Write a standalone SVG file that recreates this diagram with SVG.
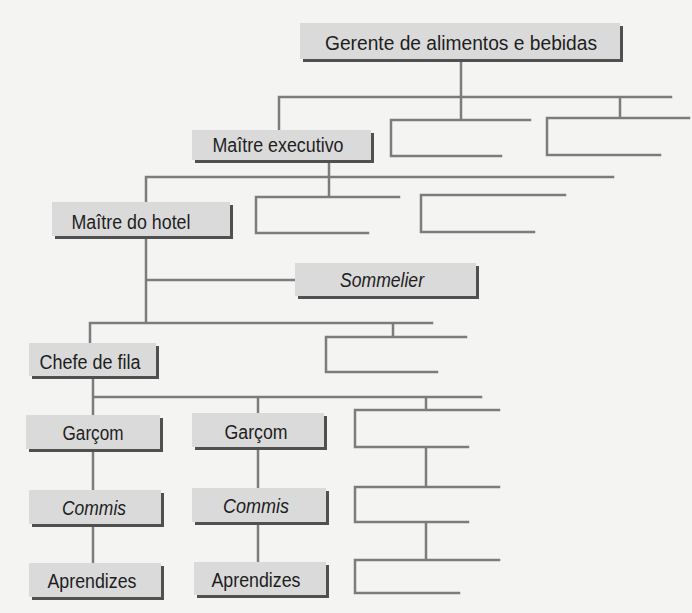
<svg xmlns="http://www.w3.org/2000/svg" width="692" height="613" viewBox="0 0 692 613">
<defs>
<style>
.bg{fill:#f4f4f2}
.sh{fill:#505050}
.bx{fill:#dadada}
.t{font-family:"Liberation Sans",Arial,sans-serif;font-size:20px;fill:#1e1e1e;text-anchor:middle}
.i{font-style:italic}
.c{fill:none;stroke:#7c7c7c;stroke-width:2.5;stroke-linecap:square}
</style>
</defs>
<rect class="bg" x="0" y="0" width="692" height="613"/>
<g id="connectors" class="c">
<path d="M461 63V97M279 97H671M279 97V130M461 97V120M391 120H530M391 120V156H501M620 97V118M547 118H689M547 118V155H660"/>
<path d="M329 163V177M146 177H613M146 177V202M329 177V197M256 197H399M256 197V233H368M421 195H565M421 195V232H534"/>
<path d="M146 239V323M146 280H295M90 323H432M90 323V343M393 323V337M326 337H466M326 337V372H437"/>
<path d="M93 379V415M93 397H481M258 397V413M426 397V410M355 410H499M355 410V447H468M426 447V487M355 487H499M355 487V522H468M426 522V560M355 560H499M355 560V593H459"/>
<path d="M93 452V490M93 527V563M258 450V488M258 525V562"/>
</g>
<g id="gerente"><rect class="sh" x="303" y="26" width="320" height="36"/><rect class="bx" x="300" y="23" width="320" height="36"/><text class="t" x="461" y="50" textLength="272" lengthAdjust="spacingAndGlyphs">Gerente de alimentos e bebidas</text></g>
<g id="maitre-executivo"><rect class="sh" x="195" y="133" width="179" height="30"/><rect class="bx" x="192" y="130" width="179" height="30"/><text class="t" x="278" y="152" textLength="131" lengthAdjust="spacingAndGlyphs">Maître executivo</text></g>
<g id="maitre-hotel"><rect class="sh" x="55" y="205" width="178" height="34"/><rect class="bx" x="52" y="202" width="178" height="34"/><text class="t" x="131" y="229" textLength="119" lengthAdjust="spacingAndGlyphs">Maître do hotel</text></g>
<g id="sommelier"><rect class="sh" x="298" y="266" width="181" height="33"/><rect class="bx" x="295" y="263" width="181" height="33"/><text class="t i" x="382" y="287" textLength="84" lengthAdjust="spacingAndGlyphs">Sommelier</text></g>
<g id="chefe"><rect class="sh" x="32" y="346" width="127" height="33"/><rect class="bx" x="29" y="343" width="127" height="33"/><text class="t" x="90" y="369" textLength="101" lengthAdjust="spacingAndGlyphs">Chefe de fila</text></g>
<g id="garcom1"><rect class="sh" x="29" y="418" width="134" height="34"/><rect class="bx" x="26" y="415" width="134" height="34"/><text class="t" x="93" y="440" textLength="61" lengthAdjust="spacingAndGlyphs">Garçom</text></g>
<g id="garcom2"><rect class="sh" x="195" y="416" width="132" height="34"/><rect class="bx" x="192" y="413" width="132" height="34"/><text class="t" x="256" y="439" textLength="63" lengthAdjust="spacingAndGlyphs">Garçom</text></g>
<g id="commis1"><rect class="sh" x="32" y="493" width="132" height="34"/><rect class="bx" x="29" y="490" width="132" height="34"/><text class="t i" x="94" y="515" textLength="64" lengthAdjust="spacingAndGlyphs">Commis</text></g>
<g id="commis2"><rect class="sh" x="195" y="491" width="134" height="34"/><rect class="bx" x="192" y="488" width="134" height="34"/><text class="t i" x="256" y="513" textLength="66" lengthAdjust="spacingAndGlyphs">Commis</text></g>
<g id="aprendizes1"><rect class="sh" x="32" y="566" width="132" height="34"/><rect class="bx" x="29" y="563" width="132" height="34"/><text class="t" x="92" y="588" textLength="89" lengthAdjust="spacingAndGlyphs">Aprendizes</text></g>
<g id="aprendizes2"><rect class="sh" x="197" y="565" width="132" height="33"/><rect class="bx" x="194" y="562" width="132" height="33"/><text class="t" x="256" y="587" textLength="89" lengthAdjust="spacingAndGlyphs">Aprendizes</text></g>
</svg>
